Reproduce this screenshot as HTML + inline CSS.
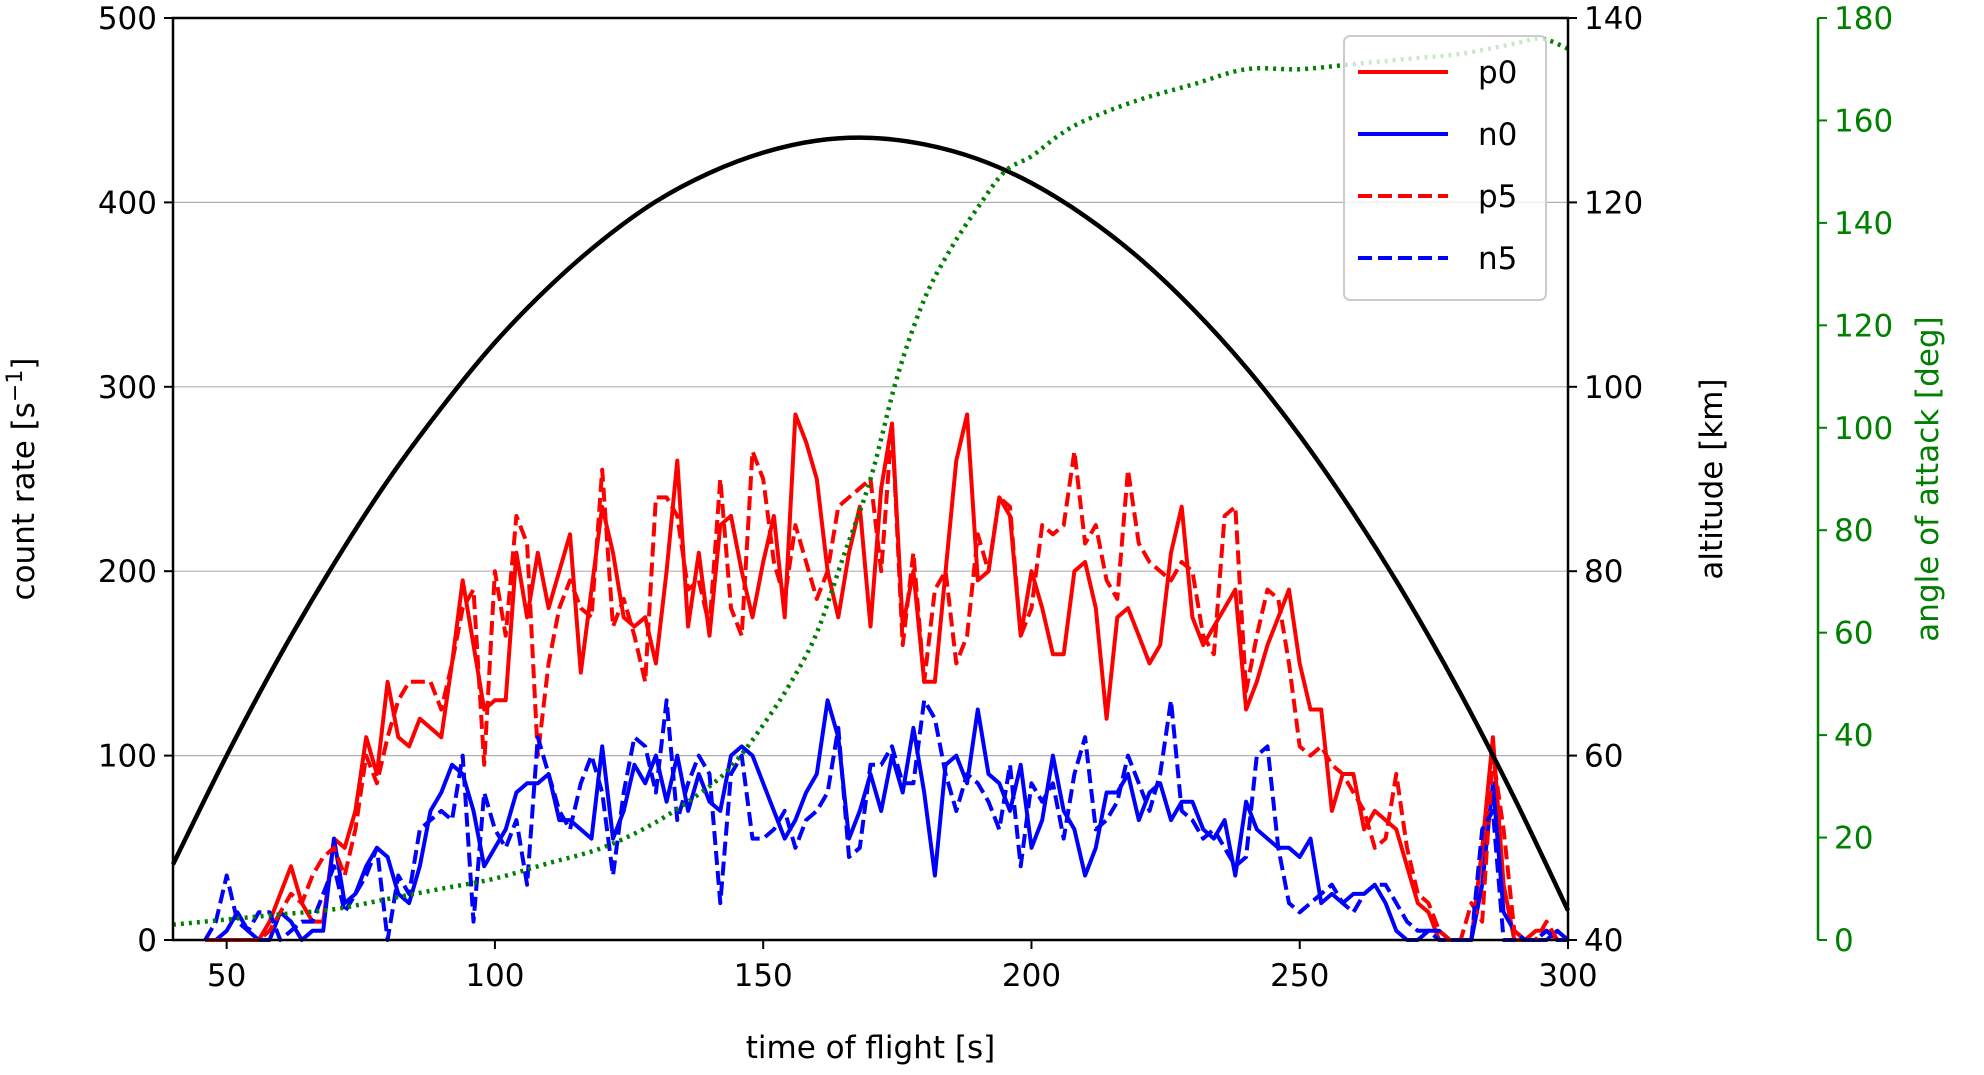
<!DOCTYPE html>
<html><head><meta charset="utf-8"><style>
body{margin:0;background:#fff}
svg text{font-family:"DejaVu Sans","Liberation Sans",sans-serif}
</style></head><body>
<svg id="c" width="1984" height="1070" xmlns="http://www.w3.org/2000/svg"></svg>
<script>
const t0 = 46, dt = 2;
const p0 = [0,0,0,0,0,0,10,25,40,20,10,10,55,50,70,110,90,140,110,105,120,115,110,150,195,160,125,130,130,210,175,210,180,200,220,145,190,235,210,175,170,175,150,200,260,170,210,165,225,230,200,175,205,230,175,285,270,250,200,175,210,235,170,245,280,170,200,140,140,200,260,285,195,200,240,230,165,200,180,155,155,200,205,180,120,175,180,165,150,160,210,235,175,160,170,180,190,125,140,160,175,190,150,125,125,70,90,90,60,70,65,60,40,20,15,0,0,0,0,50,110,30,0,0,5,5,0,0];
const p5 = [0,0,0,0,0,0,5,15,25,20,35,45,50,35,60,100,85,110,130,140,140,140,125,150,180,190,95,200,165,230,215,100,150,180,195,180,175,255,170,185,165,140,240,240,230,190,195,170,250,180,165,265,250,205,185,225,205,185,200,235,240,245,250,200,280,160,210,140,190,200,150,165,220,200,240,235,165,180,225,220,225,265,215,225,195,185,255,215,205,200,195,205,200,165,155,230,235,135,165,190,185,150,105,100,105,95,90,80,70,50,55,90,50,25,20,5,0,0,20,10,100,60,5,0,0,10,0,0];
const n0 = [0,0,5,15,5,0,0,15,10,0,5,5,55,20,25,40,50,45,25,20,40,70,80,95,90,70,40,50,60,80,85,85,90,65,65,60,55,105,55,70,95,85,100,75,100,70,90,75,70,100,105,100,85,70,55,65,80,90,130,110,55,70,90,70,100,80,115,80,35,95,100,85,125,90,85,70,95,50,65,100,70,60,35,50,80,80,90,65,80,85,65,75,75,60,55,65,35,75,60,55,50,50,45,55,20,25,20,25,25,30,20,5,0,0,5,5,0,0,0,30,85,15,5,0,0,0,5,0];
const n5 = [0,10,35,10,5,15,15,0,5,10,10,25,40,15,25,35,50,0,35,25,60,65,70,65,100,10,80,60,50,65,30,110,90,70,60,85,100,80,35,80,110,105,80,130,65,85,100,90,20,90,100,55,55,60,70,50,65,70,80,115,45,50,95,95,105,85,85,130,120,90,70,90,85,75,60,95,40,85,75,85,55,90,110,60,65,75,100,85,70,90,130,70,65,55,60,50,40,45,100,105,50,20,15,20,25,30,20,15,25,30,30,20,10,5,5,0,0,0,0,60,70,0,0,0,0,5,0,0];
const altT = [40,50,60,70,80,90,100,110,120,130,140,150,160,170,180,190,200,210,220,230,240,250,260,270,280,290,300];
const altV = [48.2,60.0,70.9,80.8,89.8,97.7,104.8,110.8,115.9,120.1,123.2,125.4,126.7,127.0,126.3,124.7,122.1,118.5,114.0,108.5,102.1,94.7,86.3,77.0,66.7,55.4,43.2];
const aoaT = [40,50,60,70,80,90,100,110,120,130,140,145,150,155,160,165,170,175,180,185,190,195,200,205,210,220,230,240,250,260,270,280,290,295,300];
const aoaV = [3,4,5,6,8,10,12,15,18,23,30,35,42,50,60,75,90,110,125,135,143,150,153,157,160,164,167,170,170,171,172,173,175,176,174];
const xTicks=[50,100,150,200,250,300], yTicks=[0,100,200,300,400,500], altTicks=[40,60,80,100,120,140], aoaTicks=[0,20,40,60,80,100,120,140,160,180];

const L=173,R=1568,T=18,B=940,AX3=1818;
const X=v=>L+(v-40)/260*(R-L), Y=v=>B-v/500*(B-T), YA=v=>B-(v-40)/100*(B-T), YG=v=>B-v/180*(B-T);
const svg=document.getElementById('c'), NS='http://www.w3.org/2000/svg';
function mk(tag,attrs,txt){const e=document.createElementNS(NS,tag);for(const k in attrs)e.setAttribute(k,attrs[k]);if(txt!==undefined)e.textContent=txt;svg.appendChild(e);return e;}
yTicks.forEach(v=>{if(v>0&&v<500){const g=mk('line',{x1:L,x2:R,y1:Y(v),y2:Y(v),stroke:'#b0b0b0','stroke-width':1.2});

}});
function series(xs,ys,fy,color,dash,w,name){const pts=ys.map((v,i)=>X(xs(i)).toFixed(1)+','+fy(v).toFixed(1)).join(' ');
const p=mk('polyline',{points:pts,fill:'none',stroke:color,'stroke-width':w,'stroke-dasharray':dash,'stroke-linejoin':'round'});

}
function smooth(xs,ys,fy,color,dash,w,name){const P=ys.map((v,i)=>[X(xs[i]),fy(v)]);let d='M'+P[0][0]+','+P[0][1];
for(let i=0;i<P.length-1;i++){const p0=P[Math.max(0,i-1)],p1=P[i],p2=P[i+1],p3=P[Math.min(P.length-1,i+2)];
d+=` C${p1[0]+(p2[0]-p0[0])/6},${p1[1]+(p2[1]-p0[1])/6} ${p2[0]-(p3[0]-p1[0])/6},${p2[1]-(p3[1]-p1[1])/6} ${p2[0]},${p2[1]}`;}
const p=mk('path',{d:d,fill:'none',stroke:color,'stroke-width':w,'stroke-dasharray':dash});

}
const ti=i=>t0+i*dt;
series(ti,p0,Y,'#ff0000','none',4,'series-p0');
series(ti,n0,Y,'#0000ff','none',4,'series-n0');
series(ti,p5,Y,'#ff0000','14 6',4,'series-p5');
series(ti,n5,Y,'#0000ff','14 6',4,'series-n5');
smooth(altT,altV,YA,'#000','none',4.5,'altitude-line');
smooth(aoaT,aoaV,YG,'#008000','3 5',4.5,'angle-of-attack-line');
const fr=mk('rect',{x:L,y:T,width:R-L,height:B-T,fill:'none',stroke:'#000','stroke-width':2.5});


const fs=31;
xTicks.forEach(v=>{mk('line',{x1:X(v),x2:X(v),y1:B,y2:B+9,stroke:'#000','stroke-width':2});
const t=mk('text',{x:X(v),y:B+46,'font-size':fs,'text-anchor':'middle'},v);

});
yTicks.forEach(v=>{mk('line',{x1:L-9,x2:L,y1:Y(v),y2:Y(v),stroke:'#000','stroke-width':2});
const t=mk('text',{x:L-16,y:Y(v)+11,'font-size':fs,'text-anchor':'end'},v);

});
altTicks.forEach(v=>{mk('line',{x1:R,x2:R+9,y1:YA(v),y2:YA(v),stroke:'#000','stroke-width':2});
const t=mk('text',{x:R+16,y:YA(v)+11,'font-size':fs},v);

});
const a3=mk('line',{x1:AX3,x2:AX3,y1:T,y2:B,stroke:'#008000','stroke-width':2.5});


aoaTicks.forEach(v=>{mk('line',{x1:AX3,x2:AX3+9,y1:YG(v),y2:YG(v),stroke:'#008000','stroke-width':2});
const t=mk('text',{x:AX3+16,y:YG(v)+11,'font-size':fs,fill:'#008000'},v);

});
let t;
t=mk('text',{x:(L+R)/2,y:1058,'font-size':fs,'text-anchor':'middle'},'time of flight [s]');


t=mk('text',{x:0,y:0,'font-size':fs,'text-anchor':'middle',transform:`translate(34,${(T+B)/2}) rotate(-90)`});
t.innerHTML='count rate [s<tspan dy="-12" font-size="22">−1</tspan><tspan dy="12">]</tspan>';


t=mk('text',{x:0,y:0,'font-size':fs,'text-anchor':'middle',transform:`translate(1722,${(T+B)/2}) rotate(-90)`},'altitude [km]');


t=mk('text',{x:0,y:0,'font-size':fs,'text-anchor':'middle',fill:'#008000',transform:`translate(1938,${(T+B)/2}) rotate(-90)`},'angle of attack [deg]');


const lg=mk('rect',{x:1344,y:36,width:202,height:264,rx:6,fill:'#fff','fill-opacity':0.8,stroke:'#ccc','stroke-width':2});


[['p0','#ff0000','none'],['n0','#0000ff','none'],['p5','#ff0000','14 6'],['n5','#0000ff','14 6']].forEach((e,i)=>{
const y=72+i*62;
mk('line',{x1:1358,x2:1448,y1:y,y2:y,stroke:e[1],'stroke-width':4,'stroke-dasharray':e[2]});
const tx=mk('text',{x:1478,y:y+11,'font-size':fs},e[0]);

});
</script>
</body></html>
